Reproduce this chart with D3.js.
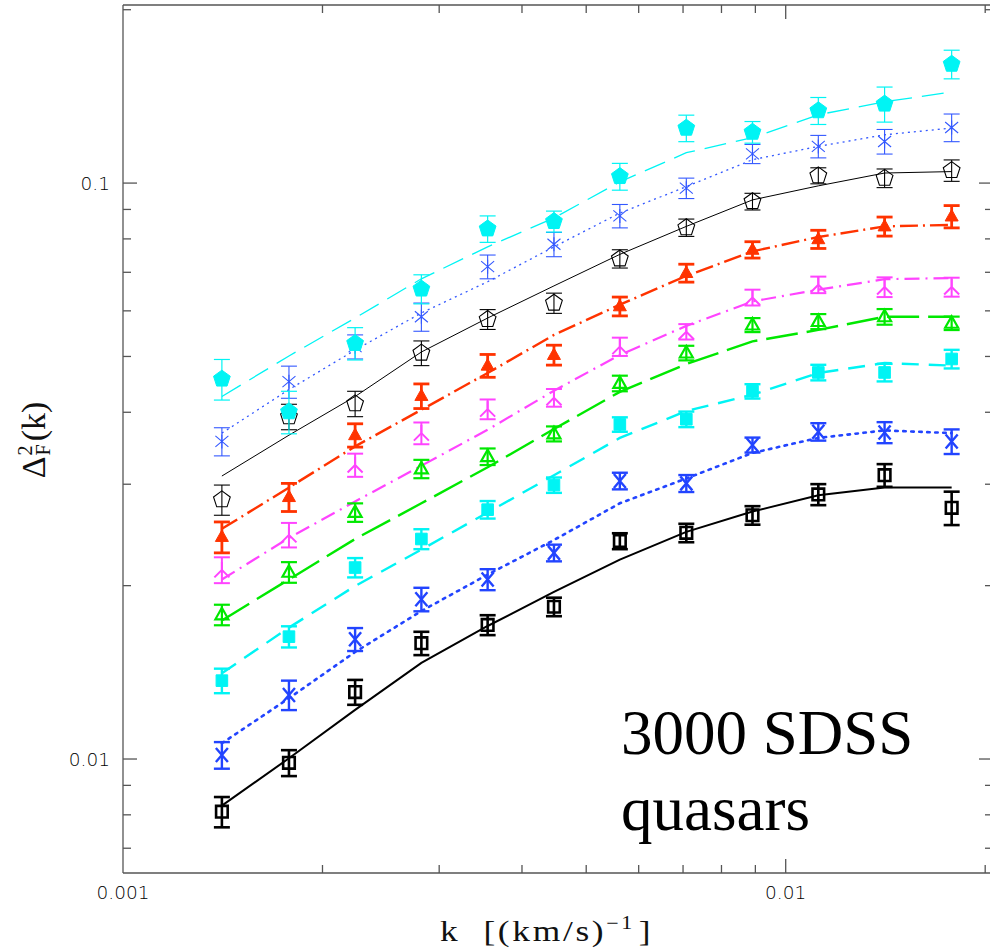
<!DOCTYPE html>
<html><head><meta charset="utf-8">
<script src="https://cdn.jsdelivr.net/npm/d3@7"></script>
<style>body{margin:0;background:#fff} svg{display:block}
.serif{font-family:"Liberation Serif","Times New Roman",Times,serif;}
.tick{font-family:"DejaVu Sans",sans-serif;font-weight:200;}
</style>
</head><body>
<svg id="chart" width="990" height="952"></svg>
<script>
// ---------- data ----------
const kValues = [0.00141, 0.00178, 0.00224, 0.00282, 0.00355, 0.00447, 0.00562, 0.00708, 0.00891, 0.0112, 0.0141, 0.0178];

const cyanPentVal   = [0.0457, 0.0401, 0.0527, 0.0655, 0.0833, 0.0858, 0.1027, 0.1246, 0.1226, 0.1336, 0.1372, 0.1609];
const cyanPentErr   = [0.0037, 0.0034, 0.0034, 0.0038, 0.0044, 0.0036, 0.0055, 0.0066, 0.0053, 0.0072, 0.0096, 0.0092];
const cyanPentModel = [0.0426, 0.0501, 0.0583, 0.0682, 0.0775, 0.0870, 0.1005, 0.1129, 0.1199, 0.1314, 0.1384, 0.1439];

const blueStarVal   = [0.0356, 0.0452, 0.0520, 0.0586, 0.0716, 0.0783, 0.0877, 0.0980, 0.1124, 0.1158, 0.1181, 0.1249];
const blueStarErr   = [0.0020, 0.0029, 0.0025, 0.0033, 0.0034, 0.0038, 0.0041, 0.0040, 0.0043, 0.0052, 0.0058, 0.0069];
const blueStarModel = [0.0368, 0.0438, 0.0513, 0.0595, 0.0674, 0.0775, 0.0887, 0.0986, 0.1098, 0.1158, 0.1213, 0.1246];

const blackPentVal   = [0.0282, 0.0393, 0.0414, 0.0507, 0.0580, 0.0619, 0.0739, 0.0837, 0.0929, 0.1030, 0.1020, 0.1052];
const blackPentErr   = [0.0017, 0.0020, 0.0021, 0.0025, 0.0023, 0.0025, 0.0027, 0.0029, 0.0031, 0.0033, 0.0038, 0.0045];
const blackPentModel = [0.0310, 0.0365, 0.0426, 0.0509, 0.0583, 0.0663, 0.0752, 0.0841, 0.0935, 0.0989, 0.1041, 0.1047];

const redTriVal   = [0.0243, 0.0285, 0.0365, 0.0427, 0.0482, 0.0503, 0.0611, 0.0698, 0.0766, 0.0799, 0.0841, 0.0875];
const redTriErr   = [0.0015, 0.0016, 0.0017, 0.0021, 0.0022, 0.0020, 0.0023, 0.0025, 0.0025, 0.0029, 0.0032, 0.0039];
const redTriModel = [0.0251, 0.0296, 0.0349, 0.0404, 0.0468, 0.0545, 0.0615, 0.0690, 0.0761, 0.0806, 0.0841, 0.0846];

const magentaVal   = [0.0213, 0.0245, 0.0324, 0.0368, 0.0405, 0.0424, 0.0520, 0.0552, 0.0633, 0.0666, 0.0660, 0.0660];
const magentaErr   = [0.0011, 0.0012, 0.0015, 0.0016, 0.0016, 0.0015, 0.0019, 0.0017, 0.0020, 0.0022, 0.0026, 0.0025];
const magentaModel = [0.0205, 0.0242, 0.0280, 0.0323, 0.0373, 0.0436, 0.0503, 0.0565, 0.0623, 0.0653, 0.0681, 0.0684];

const greenTriVal   = [0.0178, 0.0211, 0.0268, 0.0319, 0.0335, 0.0367, 0.0449, 0.0507, 0.0567, 0.0575, 0.0586, 0.0571];
const greenTriErr   = [0.00073, 0.00087, 0.00099, 0.00117, 0.00111, 0.00110, 0.00140, 0.00148, 0.00159, 0.00173, 0.00183, 0.00153];
const greenTriModel = [0.0174, 0.0205, 0.0241, 0.0278, 0.0321, 0.0374, 0.0434, 0.0485, 0.0531, 0.0556, 0.0586, 0.0586];

const cyanSqVal   = [0.01368, 0.01631, 0.0215, 0.0241, 0.0271, 0.0299, 0.0381, 0.0389, 0.0435, 0.0469, 0.0469, 0.0495];
const cyanSqErr   = [0.00067, 0.00069, 0.00083, 0.00096, 0.00095, 0.00092, 0.00110, 0.00121, 0.00125, 0.00146, 0.00165, 0.00184];
const cyanSqModel = [0.01409, 0.01691, 0.01997, 0.0231, 0.0268, 0.0311, 0.0361, 0.0402, 0.0429, 0.0468, 0.0487, 0.0482];

const blueXVal   = [0.01016, 0.01292, 0.01614, 0.01894, 0.0205, 0.0228, 0.0304, 0.0301, 0.0351, 0.0370, 0.0369, 0.0356];
const blueXErr   = [0.00054, 0.00076, 0.00074, 0.00089, 0.00086, 0.00076, 0.00101, 0.00102, 0.00105, 0.00129, 0.00155, 0.00175];
const blueXModel = [0.01065, 0.01275, 0.01534, 0.01807, 0.0209, 0.0240, 0.0278, 0.0307, 0.0340, 0.0361, 0.0372, 0.0368];

const blackSqVal   = [0.00810, 0.00985, 0.01307, 0.01589, 0.01709, 0.01838, 0.0239, 0.0247, 0.0265, 0.0288, 0.0311, 0.0273];
const blackSqErr   = [0.00049, 0.00051, 0.00065, 0.00074, 0.00068, 0.00068, 0.00076, 0.00091, 0.00098, 0.00121, 0.00141, 0.00182];
const blackSqModel = [0.0083, 0.01003, 0.01217, 0.01469, 0.01702, 0.0195, 0.0222, 0.0248, 0.0269, 0.0287, 0.0296, 0.0296];

const xMajorTicks = [0.001, 0.01];
const xTickLabels = ["0.001", "0.01"];
const yMajorTicks = [0.01, 0.1];
const yTickLabels = ["0.01", "0.1"];
const xTitle = "k\u00A0\u00A0[(km/s)";
const annotation = ["3000 SDSS", "quasars"];

// ---------- series table (styles) ----------
const series = [
  {val: blackSqVal,   err: blackSqErr,   model: blackSqModel,   color: "#000000", marker: "openSquare", lw: 2,   dash: null,        ew: 2.6},
  {val: blueXVal,     err: blueXErr,     model: blueXModel,     color: "#2244ff", marker: "x",          lw: 2.6, dash: "2.5,5.5",   ew: 2.4},
  {val: cyanSqVal,    err: cyanSqErr,    model: cyanSqModel,    color: "#00f4f4", marker: "square",     lw: 2.4, dash: "17,10",     ew: 2.4},
  {val: greenTriVal,  err: greenTriErr,  model: greenTriModel,  color: "#00e800", marker: "openTri",    lw: 2.4, dash: "32,9",      ew: 2.2},
  {val: magentaVal,   err: magentaErr,   model: magentaModel,   color: "#ff44ff", marker: "wye",        lw: 2.2, dash: "15,6,2,6",  ew: 2},
  {val: redTriVal,    err: redTriErr,    model: redTriModel,    color: "#ff3300", marker: "tri",        lw: 2.4, dash: "18,5,2,5",  ew: 2.8},
  {val: blackPentVal, err: blackPentErr, model: blackPentModel, color: "#000000", marker: "openPent",   lw: 1,   dash: null,        ew: 1.1},
  {val: blueStarVal,  err: blueStarErr,  model: blueStarModel,  color: "#3358ff", marker: "asterisk",   lw: 1.3, dash: "2,4",       ew: 1.1},
  {val: cyanPentVal,  err: cyanPentErr,  model: cyanPentModel,  color: "#00f4f4", marker: "pent",       lw: 1.3, dash: "22,10",     ew: 1.2}
];

// ---------- scales ----------
const svg = d3.select("#chart");
const x = d3.scaleLog().domain([0.001, 0.02055]).range([123, 993]);
const y = d3.scaleLog().domain([0.00634, 0.2038]).range([873, 5]);

// ---------- frame & ticks ----------
const axisColor = "#555";
const frame = svg.append("g").attr("stroke", axisColor).attr("stroke-width", 1.3).attr("fill", "none");
frame.append("line").attr("x1", x(0.001)).attr("x2", x(0.001)).attr("y1", y.range()[1]).attr("y2", y.range()[0]);
frame.append("line").attr("x1", x.range()[0]).attr("x2", x.range()[1]).attr("y1", y.range()[0]).attr("y2", y.range()[0]);
frame.append("line").attr("x1", x.range()[0]).attr("x2", x.range()[1]).attr("y1", y.range()[1]).attr("y2", y.range()[1]);
frame.append("line").attr("x1", x.range()[1]).attr("x2", x.range()[1]).attr("y1", y.range()[1]).attr("y2", y.range()[0]);

const xTicks = x.ticks().filter(t => t > x.domain()[0] && t < x.domain()[1]);
const yTicks = y.ticks().filter(t => t > y.domain()[0] && t < y.domain()[1]);
const isMajor = t => Math.abs(Math.log10(t) - Math.round(Math.log10(t))) < 1e-6;
xTicks.forEach(t => {
  const L = isMajor(t) ? 14 : 8;
  frame.append("line").attr("x1", x(t)).attr("x2", x(t)).attr("y1", y.range()[0]).attr("y2", y.range()[0] - L);
  frame.append("line").attr("x1", x(t)).attr("x2", x(t)).attr("y1", y.range()[1]).attr("y2", y.range()[1] + L);
});
yTicks.forEach(t => {
  const L = isMajor(t) ? 14 : 8;
  frame.append("line").attr("y1", y(t)).attr("y2", y(t)).attr("x1", x.range()[0]).attr("x2", x.range()[0] + L);
  frame.append("line").attr("y1", y(t)).attr("y2", y(t)).attr("x1", x.range()[1]).attr("x2", x.range()[1] - L);
});

xMajorTicks.forEach((t, i) => {
  svg.append("text").attr("class", "tick").attr("x", x(t)).attr("y", 899).attr("text-anchor", "middle")
    .style("font-size", "18.5px").attr("fill", "#000").text(xTickLabels[i]);
});
yMajorTicks.forEach((t, i) => {
  svg.append("text").attr("class", "tick").attr("x", 110).attr("y", y(t) + 6.8).attr("text-anchor", "end")
    .style("font-size", "18.5px").attr("fill", "#000").text(yTickLabels[i]);
});

// ---------- axis titles ----------
const xt = svg.append("text").attr("class", "serif").attr("transform", "translate(440,941) scale(1.22,1)")
  .style("font-size", "29px").style("letter-spacing", "2.2px").attr("fill", "#111");
xt.append("tspan").text(xTitle);
xt.append("tspan").attr("dy", -12).attr("dx", 0).style("font-size", "18px").text("\u22121");
xt.append("tspan").attr("dy", 12).attr("dx", 3).text("]");

const yt = svg.append("text").attr("class", "serif").attr("transform", "translate(45,440) rotate(-90)")
  .attr("text-anchor", "middle").style("font-size", "34px").attr("fill", "#111");
yt.append("tspan").text("\u0394");
yt.append("tspan").attr("dy", -13).attr("dx", 1).style("font-size", "20px").text("2");
yt.append("tspan").attr("dx", -10).attr("dy", 18).style("font-size", "20px").text("F");
yt.append("tspan").attr("dy", -5).attr("dx", 3).text("(k)");

// ---------- annotation ----------
annotation.forEach((s, i) => {
  svg.append("text").attr("class", "serif").attr("x", 621).attr("y", 754 + i * 76)
    .style("font-size", "63px").attr("fill", "#000").text(s);
});

// ---------- model lines ----------
const line = d3.line().x(d => x(d[0])).y(d => y(d[1]));
const linesG = svg.append("g");
series.forEach(s => {
  linesG.append("path").datum(kValues.map((k, i) => [k, s.model[i]]))
    .attr("d", line).attr("fill", "none").attr("stroke", s.color)
    .attr("stroke-width", s.lw).attr("stroke-dasharray", s.dash)
    .attr("stroke-linecap", s.marker === "x" ? "round" : "butt");
});

// ---------- markers ----------
function polygon(cx, cy, r, n, rot) {
  const p = d3.path();
  for (let i = 0; i < n; i++) {
    const a = rot + i * 2 * Math.PI / n;
    const px = cx + r * Math.cos(a), py = cy + r * Math.sin(a);
    if (i === 0) p.moveTo(px, py); else p.lineTo(px, py);
  }
  p.closePath();
  return p.toString();
}
function markerPath(type, cx, cy) {
  const p = d3.path();
  switch (type) {
    case "pent": case "openPent": return polygon(cx, cy, 8.8, 5, -Math.PI / 2);
    case "tri": case "openTri":
      p.moveTo(cx, cy - 7); p.lineTo(cx + 6.5, cy + 4.5); p.lineTo(cx - 6.5, cy + 4.5); p.closePath(); return p.toString();
    case "square": case "openSquare":
      p.rect(cx - 5.8, cy - 5.8, 11.6, 11.6); return p.toString();
    case "x":
      p.moveTo(cx - 6, cy - 7); p.lineTo(cx + 6, cy + 7); p.moveTo(cx + 6, cy - 7); p.lineTo(cx - 6, cy + 7); return p.toString();
    case "asterisk":
      p.moveTo(cx, cy - 7); p.lineTo(cx, cy + 7);
      p.moveTo(cx - 6.5, cy - 5.5); p.lineTo(cx + 6.5, cy + 5.5);
      p.moveTo(cx + 6.5, cy - 5.5); p.lineTo(cx - 6.5, cy + 5.5); return p.toString();
    case "wye":
      p.moveTo(cx, cy - 8); p.lineTo(cx, cy);
      p.lineTo(cx - 7.5, cy + 7.5); p.moveTo(cx, cy); p.lineTo(cx + 7.5, cy + 7.5); return p.toString();
  }
}
const filled = {pent: true, tri: true, square: true};
const capHalf = 8;

series.forEach(s => {
  const g = svg.append("g").attr("stroke", s.color).attr("fill", "none");
  kValues.forEach((k, i) => {
    const cx = x(k), v = s.val[i], e = s.err[i];
    const y1 = y(v + e), y2 = y(v - e);
    g.append("line").attr("x1", cx).attr("x2", cx).attr("y1", y1).attr("y2", y2).attr("stroke-width", s.ew);
    g.append("line").attr("x1", cx - capHalf).attr("x2", cx + capHalf).attr("y1", y1).attr("y2", y1).attr("stroke-width", s.ew);
    g.append("line").attr("x1", cx - capHalf).attr("x2", cx + capHalf).attr("y1", y2).attr("y2", y2).attr("stroke-width", s.ew);
    const isFilled = !!filled[s.marker];
    g.append("path").attr("d", markerPath(s.marker, cx, y(v)))
      .attr("fill", isFilled ? s.color : "none")
      .attr("stroke-width", isFilled ? 1 : (s.marker === "openPent" ? 1.1 : s.ew))
      .attr("stroke-linejoin", "miter");
  });
});
</script>
</body></html>
